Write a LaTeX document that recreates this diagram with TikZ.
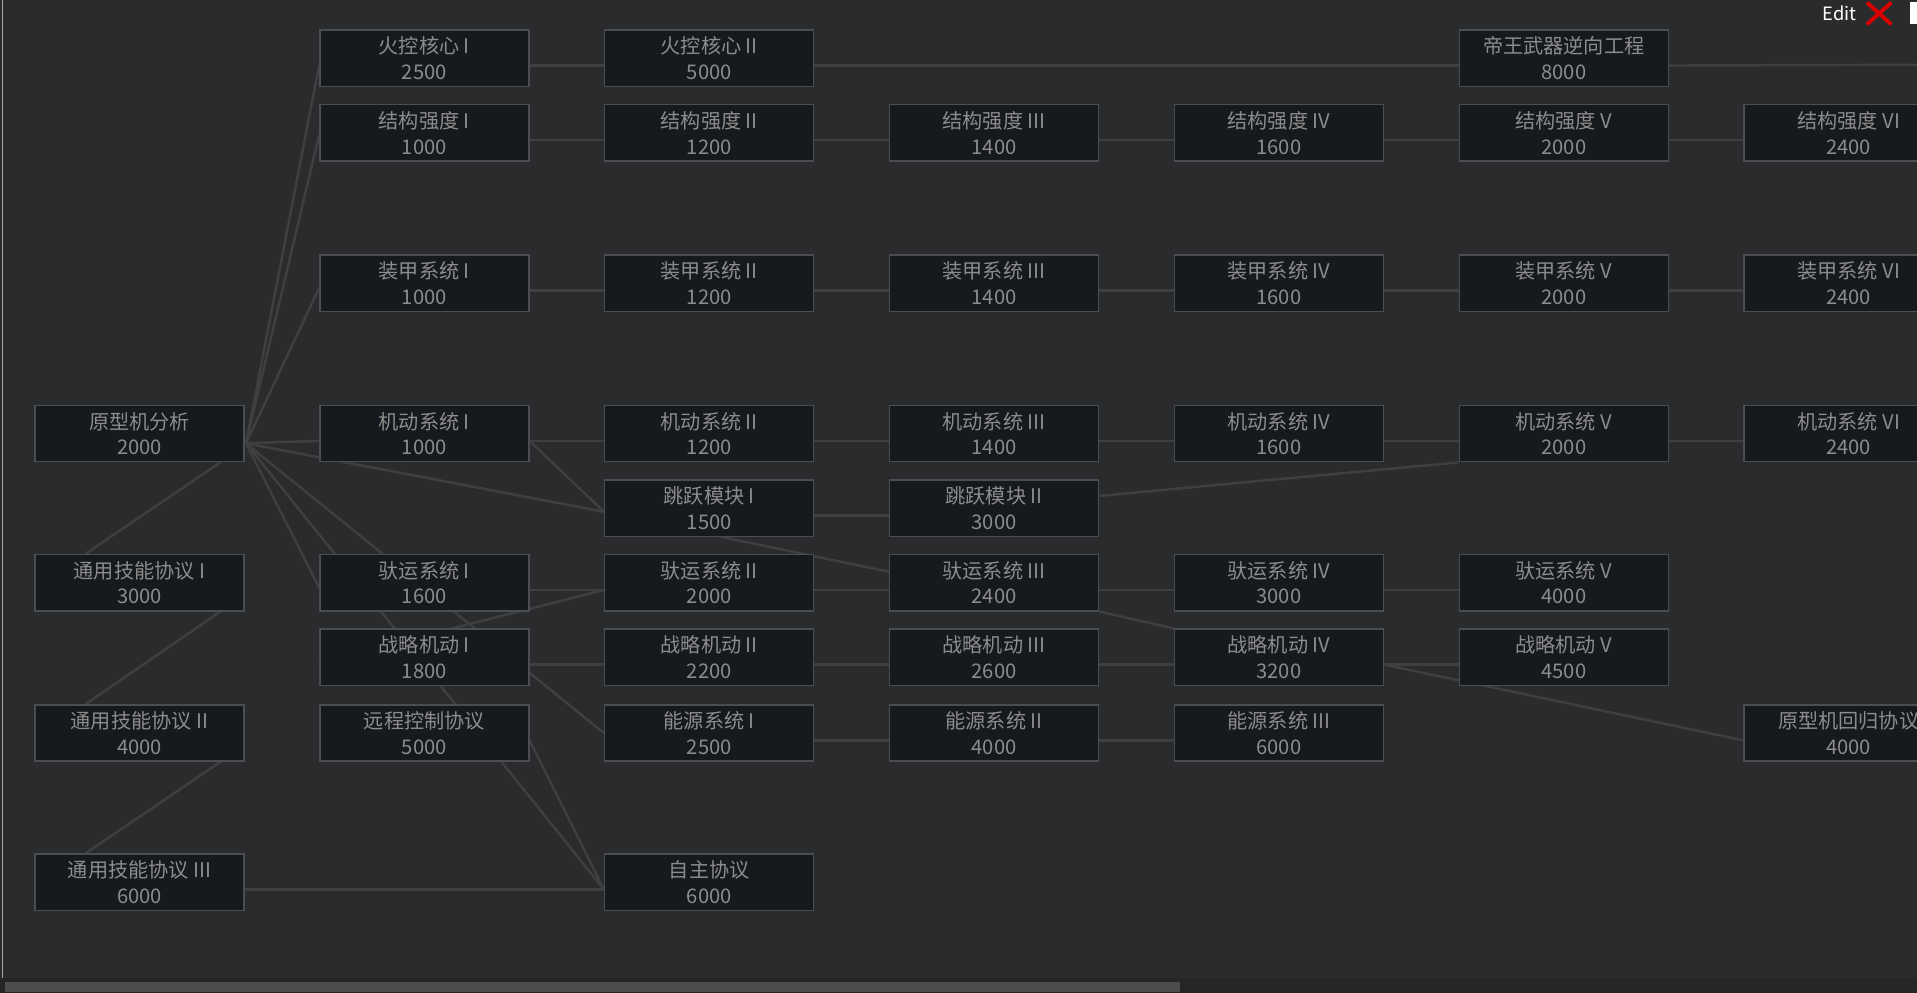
\documentclass[tikz,border=0pt]{standalone}
\usepackage{fontspec}
\setmainfont{Noto Sans CJK SC}
\usetikzlibrary{calc,backgrounds}
\definecolor{bg}{HTML}{2A2B2D}
\definecolor{box}{HTML}{16191D}
\definecolor{bd}{HTML}{4C4D50}
\definecolor{tx}{HTML}{8C8C8C}
\definecolor{ln}{HTML}{3E3F41}
\begin{document}
\begin{tikzpicture}[x=1pt,y=-1pt,
  t/.style={draw=bd,line width=1.2pt,fill=box,text=tx,minimum width=171pt,minimum height=46pt,
    inner sep=0pt,align=center,font=\fontsize{16.5}{21}\selectfont,anchor=north west},
  l/.style={draw=ln,line width=2pt}]
\useasboundingbox (0,0) rectangle (1568,812);
\draw[draw=gray!70,line width=1.5pt] (2,0) -- (2,800);
% nodes
\node[t] (root) at (28,331) {原型机分析\\2000};
\node[t] (ty1) at (28,453) {通用技能协议 I\\3000};
\node[t] (ty2) at (28,576) {通用技能协议 II\\4000};
\node[t] (ty3) at (28,698) {通用技能协议 III\\6000};
\node[t] (hk1) at (261,24) {火控核心 I\\2500};
\node[t] (hk2) at (494,24) {火控核心 II\\5000};
\node[t] (dw) at (1193,24) {帝王武器逆向工程\\8000};
\foreach \i/\r/\c in {1/I/1000,2/II/1200,3/III/1400,4/IV/1600,5/V/2000,6/VI/2400}{
  \node[t] (jg\i) at ({261+233*(\i-1)},85) {结构强度 \r\\\c};
  \node[t] (zj\i) at ({261+233*(\i-1)},208) {装甲系统 \r\\\c};
  \node[t] (jd\i) at ({261+233*(\i-1)},331) {机动系统 \r\\\c};
}
\node[t] (ty) at (494,392) {跳跃模块 I\\1500};
\node[t] (ty2b) at (727,392) {跳跃模块 II\\3000};
\foreach \i/\r/\c in {1/I/1600,2/II/2000,3/III/2400,4/IV/3000,5/V/4000}{
  \node[t] (ty\i y) at ({261+233*(\i-1)},453) {驮运系统 \r\\\c};}
\foreach \i/\r/\c in {1/I/1800,2/II/2200,3/III/2600,4/IV/3200,5/V/4500}{
  \node[t] (zl\i) at ({261+233*(\i-1)},514) {战略机动 \r\\\c};}
\node[t] (yc) at (261,576) {远程控制协议\\5000};
\node[t] (ny1) at (494,576) {能源系统 I\\2500};
\node[t] (ny2) at (727,576) {能源系统 II\\4000};
\node[t] (ny3) at (960,576) {能源系统 III\\6000};
\node[t] (hg) at (1426,576) {原型机回归协议\\4000};
\node[t] (zz) at (494,698) {自主协议\\6000};
% top right
\node[text=white,font=\fontsize{15}{15}\selectfont,anchor=east] (ed) at (1522,11) {Edit};
\node[inner sep=0pt] (xx) at (1537,11) {};
\draw[red!85!black,line width=3.2pt] ($(xx)+(-10,-9)$) -- ($(xx)+(10,9)$) ($(xx)+(-10,9)$) -- ($(xx)+(10,-9)$);
\fill[white] (1562,2) rectangle (1568,20);
% scrollbar
\fill[black!85] (0,800) rectangle (1568,812);
\fill[gray!60!black] (4,803) rectangle (965,811);
% connectors
\begin{scope}[on background layer]
\fill[bg] (0,0) rectangle (1568,812);
\coordinate (hub) at ($(root.east)+(1,8)$);
\draw[l] (hub) -- ($(hk1.west)+(0,6)$);
\draw[l] (hub) -- ($(jg1.west)+(0,2)$);
\draw[l] (hub) -- ($(zj1.west)+(0,4)$);
\draw[l] (hub) -- ($(jd1.west)+(0,6)$);
\draw[l] (hub) -- ($(ty.west)+(0,3)$);
\draw[l] (hub) -- ($(ty1y.west)+(0,4)$);
\draw[l] (hub) -- (ny1.west);
\draw[l] (hub) -- ($(zz.west)+(0,6)$);
\draw[l] ($(zl1.west)+(0,4)$) -- ($(ty2y.west)+(0,6)$);
\draw[l] ($(ty1.north west)+(42,0)$) -- ($(root.south east)+(-20,0)$);
\draw[l] ($(ty2.north west)+(42,0)$) -- ($(ty1.south east)+(-20,0)$);
\draw[l] ($(ty3.north west)+(42,0)$) -- ($(ty2.south east)+(-20,0)$);
\draw[l] ($(ty3.east)+(0,6)$) -- ($(zz.west)+(0,6)$);
\draw[l] ($(yc.east)+(0,6)$) -- ($(zz.west)+(0,6)$);
\draw[l] ($(hk1.east)+(0,6)$) -- ($(hk2.west)+(0,6)$);
\draw[l] ($(hk2.east)+(0,6)$) -- ($(dw.west)+(0,6)$);
\draw[l] ($(dw.east)+(0,6)$) -- (1568,53);
\foreach \a/\b in {1/2,2/3,3/4,4/5,5/6}{
  \draw[l] ($(jg\a.east)+(0,6)$) -- ($(jg\b.west)+(0,6)$);
  \draw[l] ($(zj\a.east)+(0,6)$) -- ($(zj\b.west)+(0,6)$);
  \draw[l] ($(jd\a.east)+(0,6)$) -- ($(jd\b.west)+(0,6)$);}
\foreach \a/\b in {1/2,2/3,3/4,4/5}{
  \draw[l] ($(ty\a y.east)+(0,6)$) -- ($(ty\b y.west)+(0,6)$);
  \draw[l] ($(zl\a.east)+(0,6)$) -- ($(zl\b.west)+(0,6)$);}
\draw[l] ($(ny1.east)+(0,6)$) -- ($(ny2.west)+(0,6)$);
\draw[l] ($(ny2.east)+(0,6)$) -- ($(ny3.west)+(0,6)$);
\draw[l] ($(jd1.east)+(0,6)$) -- ($(ty.west)+(0,3)$);
\draw[l] ($(ty.east)+(0,6)$) -- ($(ty2b.west)+(0,6)$);
\draw[l] ($(ty2b.east)+(0,-10)$) -- ($(jd5.south west)+(0,0)$);
\draw[l] ($(ty.south)+(10,0)$) -- ($(ty3y.west)+(0,-9)$);
\draw[l] ($(ty3y.south east)$) -- ($(zl4.north west)$);
\draw[l] ($(zl4.east)+(0,6)$) -- ($(hg.west)+(0,6)$);
\end{scope}
\end{tikzpicture}
\end{document}
